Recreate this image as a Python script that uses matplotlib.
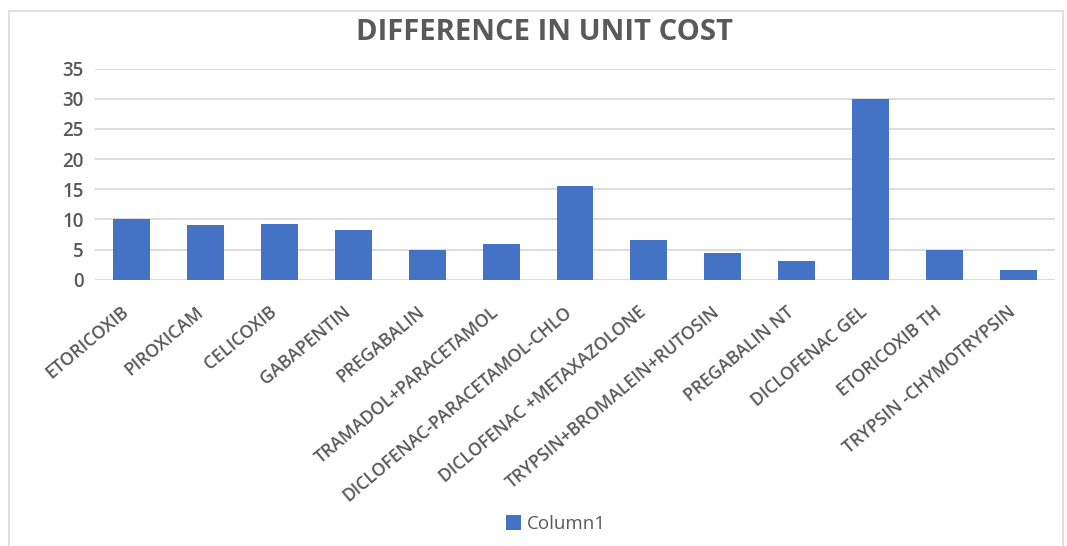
import matplotlib
matplotlib.use("Agg")
import matplotlib.pyplot as plt
from matplotlib.patches import Rectangle
import matplotlib.transforms as mtransforms
import numpy as np

categories = ["ETORICOXIB", "PIROXICAM", "CELICOXIB", "GABAPENTIN", "PREGABALIN",
              "TRAMADOL+PARACETAMOL", "DICLOFENAC-PARACETAMOL-CHLO",
              "DICLOFENAC +METAXAZOLONE", "TRYPSIN+BROMALEIN+RUTOSIN",
              "PREGABALIN NT", "DICLOFENAC GEL", "ETORICOXIB TH",
              "TRYPSIN -CHYMOTRYPSIN"]
values = [10.0, 9.05, 9.2, 8.3, 5.0, 6.0, 15.6, 6.6, 4.4, 3.05, 30.0, 5.0, 1.6]
yticks = [0, 5, 10, 15, 20, 25, 30, 35]
series_name = "Column1"
title = "DIFFERENCE IN UNIT COST"

plt.rcParams['font.family'] = ['Open Sans', 'DejaVu Sans']
txt = "#595959"

W, H = 1067, 546
fig = plt.figure(figsize=(W / 100, H / 100), dpi=100)
fig.patch.set_facecolor("white")
fig.patches.append(Rectangle((9 / W, -0.01), (1063 - 9) / W, 1 - 11 / H + 0.01,
                             transform=fig.transFigure, fill=False,
                             edgecolor="#d9d9d9", linewidth=1.2))

ax = fig.add_axes([95 / W, 1 - 279.7 / H, (1055 - 95) / W, (279.7 - 68.6) / H])
x = np.arange(len(categories))
ax.bar(x, values, width=0.5, color="#4472C4", label=series_name, zorder=3)
ax.set_xlim(-0.5, len(categories) - 0.5)
ax.set_ylim(0, 35)
ax.set_yticks(yticks)
ax.yaxis.grid(True, color="#d9d9d9", linewidth=1.3, zorder=0)
ax.set_axisbelow(True)
for s in ax.spines.values():
    s.set_visible(False)
ax.tick_params(axis="both", length=0, colors=txt, labelsize=13.5)
for t in ax.get_yticklabels():
    t.set_fontweight("semibold")
ax.tick_params(axis="y", pad=8)
ax.set_xticks(x)
ax.set_xticklabels([])
off = mtransforms.ScaledTranslation(-5 / 100, -30 / 100, fig.dpi_scale_trans)
for xi, lab in zip(x, categories):
    ax.text(xi, 0, lab, rotation=40, ha="right", va="center",
            rotation_mode="anchor", fontsize=12.8, fontweight="semibold", color=txt,
            transform=ax.get_xaxis_transform() + off)

fig.text(545 / W, 1 - 32 / H, title, ha="center", va="center",
         fontsize=21, fontweight="bold", color=txt)

handles, labels = ax.get_legend_handles_labels()
fig.legend(handles, labels, loc="center", bbox_to_anchor=(556 / W, 1 - 524 / H),
           frameon=False, fontsize=13.5, labelcolor=txt, handlelength=0.8,
           handleheight=0.8, handletextpad=0.3)

fig.savefig("out.png", dpi=100, facecolor="white")
